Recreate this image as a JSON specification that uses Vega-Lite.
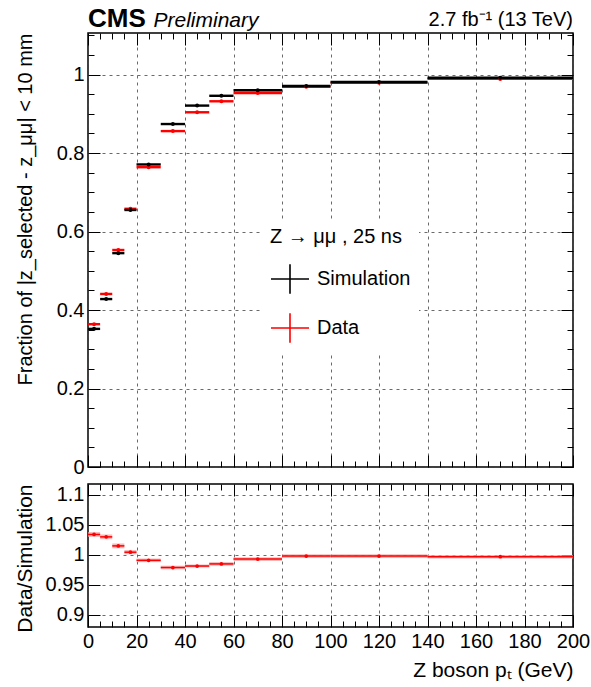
{
  "$schema": "https://vega.github.io/schema/vega-lite/v6.json",
  "background": "white",
  "padding": {"left": 13, "top": 5, "right": 4, "bottom": 4},
  "spacing": 4,
  "datasets": {
    "fraction": [
      {"series": "Data", "lo": 0, "hi": 5, "mid": 2.5, "value": 0.364},
      {"series": "Data", "lo": 5, "hi": 10, "mid": 7.5, "value": 0.441},
      {"series": "Data", "lo": 10, "hi": 15, "mid": 12.5, "value": 0.553},
      {"series": "Data", "lo": 15, "hi": 20, "mid": 17.5, "value": 0.658},
      {"series": "Data", "lo": 20, "hi": 30, "mid": 25, "value": 0.764},
      {"series": "Data", "lo": 30, "hi": 40, "mid": 35, "value": 0.856},
      {"series": "Data", "lo": 40, "hi": 50, "mid": 45, "value": 0.904},
      {"series": "Data", "lo": 50, "hi": 60, "mid": 55, "value": 0.932},
      {"series": "Data", "lo": 60, "hi": 80, "mid": 70, "value": 0.953},
      {"series": "Data", "lo": 80, "hi": 100, "mid": 90, "value": 0.969},
      {"series": "Data", "lo": 100, "hi": 140, "mid": 120, "value": 0.979},
      {"series": "Data", "lo": 140, "hi": 200, "mid": 170, "value": 0.989},
      {"series": "Simulation", "lo": 0, "hi": 5, "mid": 2.5, "value": 0.352},
      {"series": "Simulation", "lo": 5, "hi": 10, "mid": 7.5, "value": 0.428},
      {"series": "Simulation", "lo": 10, "hi": 15, "mid": 12.5, "value": 0.545},
      {"series": "Simulation", "lo": 15, "hi": 20, "mid": 17.5, "value": 0.655},
      {"series": "Simulation", "lo": 20, "hi": 30, "mid": 25, "value": 0.771},
      {"series": "Simulation", "lo": 30, "hi": 40, "mid": 35, "value": 0.874},
      {"series": "Simulation", "lo": 40, "hi": 50, "mid": 45, "value": 0.921},
      {"series": "Simulation", "lo": 50, "hi": 60, "mid": 55, "value": 0.946},
      {"series": "Simulation", "lo": 60, "hi": 80, "mid": 70, "value": 0.960},
      {"series": "Simulation", "lo": 80, "hi": 100, "mid": 90, "value": 0.971},
      {"series": "Simulation", "lo": 100, "hi": 140, "mid": 120, "value": 0.981},
      {"series": "Simulation", "lo": 140, "hi": 200, "mid": 170, "value": 0.992}
    ],
    "ratio": [
      {"lo": 0, "hi": 5, "mid": 2.5, "ratio": 1.034, "rlo": 1.030, "rhi": 1.038},
      {"lo": 5, "hi": 10, "mid": 7.5, "ratio": 1.030, "rlo": 1.026, "rhi": 1.034},
      {"lo": 10, "hi": 15, "mid": 12.5, "ratio": 1.015, "rlo": 1.011, "rhi": 1.019},
      {"lo": 15, "hi": 20, "mid": 17.5, "ratio": 1.0045, "rlo": 1.001, "rhi": 1.008},
      {"lo": 20, "hi": 30, "mid": 25, "ratio": 0.991, "rlo": 0.988, "rhi": 0.994},
      {"lo": 30, "hi": 40, "mid": 35, "ratio": 0.979, "rlo": 0.976, "rhi": 0.982},
      {"lo": 40, "hi": 50, "mid": 45, "ratio": 0.9815, "rlo": 0.979, "rhi": 0.984},
      {"lo": 50, "hi": 60, "mid": 55, "ratio": 0.985, "rlo": 0.982, "rhi": 0.988},
      {"lo": 60, "hi": 80, "mid": 70, "ratio": 0.993, "rlo": 0.990, "rhi": 0.996},
      {"lo": 80, "hi": 100, "mid": 90, "ratio": 0.998, "rlo": 0.995, "rhi": 1.001},
      {"lo": 100, "hi": 140, "mid": 120, "ratio": 0.998, "rlo": 0.995, "rhi": 1.001},
      {"lo": 140, "hi": 200, "mid": 170, "ratio": 0.997, "rlo": 0.994, "rhi": 1.000}
    ]
  },
  "vconcat": [
    {
      "width": 485,
      "height": 434,
      "data": {"name": "fraction"},
      "layer": [
        {
          "mark": {"type": "rule", "strokeWidth": 2.4},
          "encoding": {
            "x": {
              "field": "lo", "type": "quantitative",
              "scale": {"domain": [0, 200], "nice": false, "zero": false},
              "axis": {
                "values": [0,5,10,15,20,25,30,35,40,45,50,55,60,65,70,75,80,85,90,95,100,105,110,115,120,125,130,135,140,145,150,155,160,165,170,175,180,185,190,195,200],
                "labels": false, "title": null, "grid": true,
                "gridOpacity": {"condition": {"test": "datum.value % 20 === 0", "value": 1}, "value": 0},
                "tickSize": {"condition": {"test": "datum.value % 20 === 0", "value": -12}, "value": -6}
              }
            },
            "x2": {"field": "hi"},
            "y": {
              "field": "value", "type": "quantitative",
              "scale": {"domain": [0, 1.106], "nice": false},
              "axis": {
                "values": [0,0.05,0.1,0.15,0.2,0.25,0.3,0.35,0.4,0.45,0.5,0.55,0.6,0.65,0.7,0.75,0.8,0.85,0.9,0.95,1,1.05,1.1],
                "format": "~g",
                "labelExpr": "abs(datum.value*5 - round(datum.value*5)) < 0.001 ? datum.label : ''",
                "labelPadding": 16,
                "title": "Fraction of |z_selected - z_μμ| < 10 mm",
                "titleFontSize": 20,
                "titleAnchor": "end",
                "titleX": -53,
                "grid": true,
                "gridOpacity": {"condition": {"test": "abs(datum.value*5 - round(datum.value*5)) < 0.001", "value": 1}, "value": 0},
                "tickSize": {"condition": {"test": "abs(datum.value*5 - round(datum.value*5)) < 0.001", "value": -12}, "value": -6}
              }
            },
            "color": {
              "field": "series", "type": "nominal",
              "scale": {"domain": ["Simulation", "Data"], "range": ["#000000", "#ff0000"]},
              "legend": {
                "title": "Z → μμ , 25 ns\u00a0\u00a0\u00a0\u00a0\u00a0\u00a0\u00a0\u00a0\u00a0\u00a0",
                "orient": "none",
                "legendX": 174,
                "legendY": 186,
                "fillColor": "white",
                "padding": 8,
                "symbolType": "M-1,0H1M0,-0.78V0.78",
                "symbolSize": 1444,
                "symbolStrokeWidth": 1.6,
                "symbolFillColor": "transparent",
                "labelFont": "Liberation Sans",
                "labelFontSize": 20,
                "labelColor": "black",
                "labelOffset": 7,
                "titleFont": "Liberation Sans",
                "titleFontSize": 20,
                "titleFontWeight": "normal",
                "titleColor": "black",
                "titlePadding": 12,
                "titleLimit": 400,
                "rowPadding": 10
              }
            }
          }
        },
        {
          "mark": {"type": "point", "filled": true, "size": 16, "opacity": 1},
          "encoding": {
            "x": {
              "field": "mid", "type": "quantitative",
              "axis": {
                "orient": "top",
                "values": [0,5,10,15,20,25,30,35,40,45,50,55,60,65,70,75,80,85,90,95,100,105,110,115,120,125,130,135,140,145,150,155,160,165,170,175,180,185,190,195,200],
                "labels": false, "title": null, "grid": false,
                "tickSize": {"condition": {"test": "datum.value % 20 === 0", "value": -12}, "value": -6}
              }
            },
            "y": {
              "field": "value", "type": "quantitative",
              "axis": {
                "orient": "right",
                "values": [0,0.05,0.1,0.15,0.2,0.25,0.3,0.35,0.4,0.45,0.5,0.55,0.6,0.65,0.7,0.75,0.8,0.85,0.9,0.95,1,1.05,1.1],
                "labels": false, "title": null, "grid": false,
                "tickSize": {"condition": {"test": "abs(datum.value*5 - round(datum.value*5)) < 0.001", "value": -12}, "value": -6}
              }
            },
            "color": {"field": "series", "type": "nominal", "legend": null}
          }
        },
        {
          "data": {"values": [{}]},
          "mark": {"type": "text", "text": "CMS", "font": "Liberation Sans", "fontWeight": "bold", "fontSize": 26, "align": "left", "baseline": "alphabetic", "dy": -6},
          "encoding": {
            "x": {"datum": 0, "type": "quantitative", "axis": null},
            "y": {"datum": 1.106, "type": "quantitative", "axis": null}
          }
        },
        {
          "data": {"values": [{}]},
          "mark": {"type": "text", "text": "Preliminary", "font": "Liberation Sans", "fontStyle": "italic", "fontSize": 21, "align": "left", "baseline": "alphabetic", "dy": -6},
          "encoding": {
            "x": {"datum": 27, "type": "quantitative", "axis": null},
            "y": {"datum": 1.106, "type": "quantitative", "axis": null}
          }
        },
        {
          "data": {"values": [{}]},
          "mark": {"type": "text", "text": "2.7 fb⁻¹ (13 TeV)", "font": "Liberation Sans", "fontSize": 20, "align": "right", "baseline": "alphabetic", "dy": -7},
          "encoding": {
            "x": {"datum": 200, "type": "quantitative", "axis": null},
            "y": {"datum": 1.106, "type": "quantitative", "axis": null}
          }
        }
      ],
      "resolve": {"axis": {"x": "independent", "y": "independent"}}
    },
    {
      "width": 485,
      "height": 143,
      "data": {"name": "ratio"},
      "layer": [
        {
          "mark": {"type": "rect", "color": "#f4a0a0", "opacity": 0.75},
          "encoding": {
            "x": {
              "field": "lo", "type": "quantitative",
              "scale": {"domain": [0, 200], "nice": false, "zero": false},
              "axis": {
                "values": [0,5,10,15,20,25,30,35,40,45,50,55,60,65,70,75,80,85,90,95,100,105,110,115,120,125,130,135,140,145,150,155,160,165,170,175,180,185,190,195,200],
                "labelExpr": "datum.value % 20 === 0 ? datum.label : ''",
                "labelPadding": 16,
                "title": "Z boson pₜ (GeV)",
                "titleAnchor": "end",
                "titlePadding": 2,
                "grid": true,
                "gridOpacity": {"condition": {"test": "datum.value % 20 === 0", "value": 1}, "value": 0},
                "tickSize": {"condition": {"test": "datum.value % 20 === 0", "value": -12}, "value": -6}
              }
            },
            "x2": {"field": "hi"},
            "y": {
              "field": "rlo", "type": "quantitative",
              "scale": {"domain": [0.88, 1.118], "nice": false, "zero": false},
              "axis": {
                "values": [0.9, 0.95, 1, 1.05, 1.1],
                "format": "~g",
                "labelPadding": 16,
                "title": "Data/Simulation",
                "titleAnchor": "end",
                "titleX": -53,
                "grid": true,
                "tickSize": -12
              }
            },
            "y2": {"field": "rhi"}
          }
        },
        {
          "mark": {"type": "rule", "color": "#ff0000", "strokeWidth": 1.5},
          "encoding": {
            "x": {
              "field": "lo", "type": "quantitative",
              "axis": {
                "orient": "top",
                "values": [0,5,10,15,20,25,30,35,40,45,50,55,60,65,70,75,80,85,90,95,100,105,110,115,120,125,130,135,140,145,150,155,160,165,170,175,180,185,190,195,200],
                "labels": false, "title": null, "grid": false,
                "tickSize": {"condition": {"test": "datum.value % 20 === 0", "value": -12}, "value": -6}
              }
            },
            "x2": {"field": "hi"},
            "y": {
              "field": "ratio", "type": "quantitative",
              "axis": {
                "orient": "right",
                "values": [0.9, 0.95, 1, 1.05, 1.1],
                "labels": false, "title": null, "grid": false,
                "tickSize": -12
              }
            }
          }
        },
        {
          "mark": {"type": "point", "filled": true, "color": "#ff0000", "size": 14, "opacity": 1},
          "encoding": {
            "x": {"field": "mid", "type": "quantitative", "axis": null},
            "y": {"field": "ratio", "type": "quantitative", "axis": null}
          }
        }
      ],
      "resolve": {"axis": {"x": "independent", "y": "independent"}}
    }
  ],
  "config": {
    "font": "Liberation Sans",
    "view": {"stroke": "black", "strokeWidth": 1.5},
    "axis": {
      "labelFont": "Liberation Sans",
      "labelFontSize": 20,
      "labelColor": "black",
      "labelFlush": false,
      "labelOverlap": false,
      "titleFont": "Liberation Sans",
      "titleFontSize": 21,
      "titleFontWeight": "normal",
      "titleColor": "black",
      "tickColor": "black",
      "tickWidth": 1,
      "domain": false,
      "gridColor": "#444444",
      "gridDash": [3, 4],
      "gridWidth": 0.8
    }
  }
}
